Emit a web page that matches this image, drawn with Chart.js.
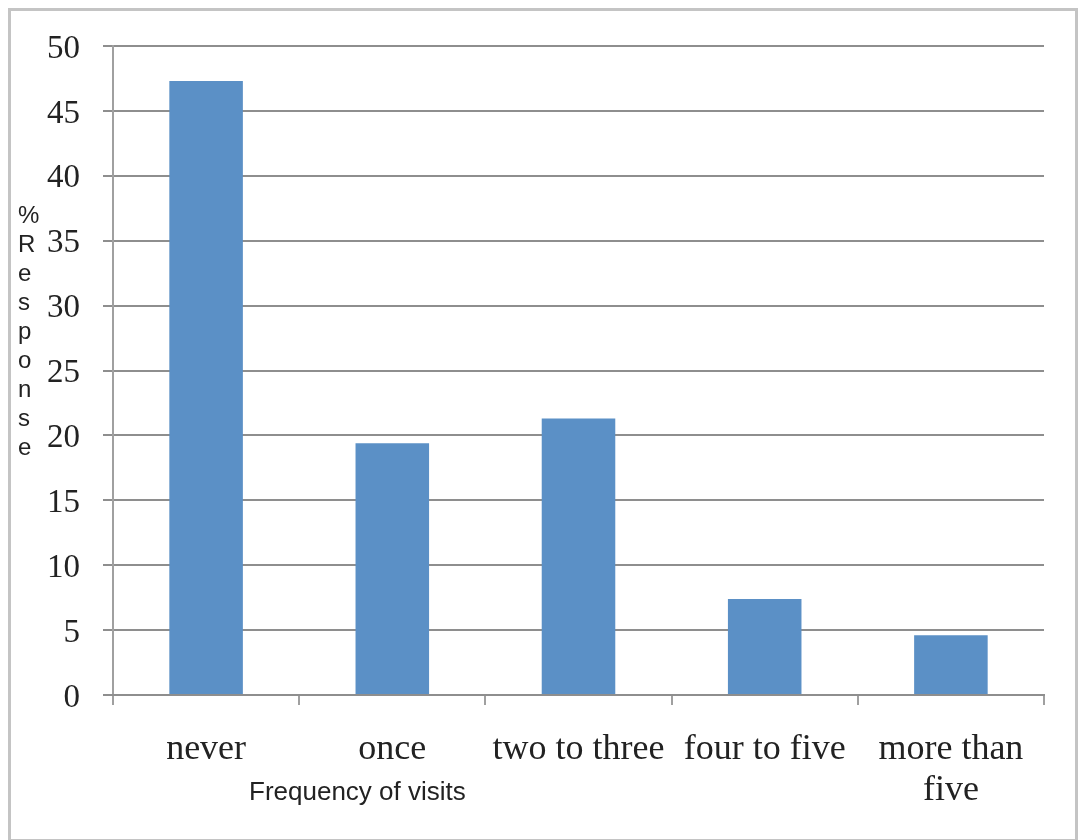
<!DOCTYPE html>
<html>
<head>
<meta charset="utf-8">
<script src="https://cdn.jsdelivr.net/npm/chart.js@4"></script>
<style>
  body { margin: 0; background: #fff; }
  #wrap { position: relative; width: 1080px; height: 840px; }
  #frame {
    position: absolute; left: 8px; top: 8px; width: 1070px; height: 834px;
    border: 3px solid #c4c4c4; box-sizing: border-box; pointer-events: none;
  }
</style>
</head>
<body>
<div id="wrap">
  <canvas id="myChart" width="1080" height="840"></canvas>
  <div id="frame"></div>
</div>
<script>
let labels = ["never", "once", "two to three", "four to five", ["more than", "five"]];
let values = [47.3, 19.4, 21.3, 7.4, 4.6];
let yTitle = "% Response";
let xTitle = "Frequency of visits";

// axis titles are drawn by hand: stacked letters on the left, offset text below
const titles = {
  id: "titles",
  afterDraw(chart) {
    let ctx = chart.ctx;
    ctx.save();
    ctx.fillStyle = "#222";
    ctx.font = "24px 'Liberation Sans'";
    ctx.textAlign = "left";
    ctx.textBaseline = "middle";
    let letters = yTitle.replace(" ", "").split("");
    letters.forEach((ch, i) => ctx.fillText(ch, 18, 216 + i * 29));
    ctx.font = "26px 'Liberation Sans'";
    ctx.fillText(xTitle, 249, 793);
    ctx.restore();
  },
};

let ctx = document.getElementById("myChart").getContext("2d");
let myChart = new Chart(ctx, {
  type: "bar",
  data: {
    labels: labels,
    datasets: [
      {
        data: values,
        backgroundColor: "#5b90c6",
        borderWidth: 0,
        barPercentage: 0.395,
        categoryPercentage: 1,
      },
    ],
  },
  options: {
    responsive: false,
    animation: false,
    layout: { padding: { top: 46, right: 36, left: 0, bottom: 0 } },
    plugins: { legend: { display: false }, tooltip: { enabled: false } },
    scales: {
      y: {
        min: 0,
        max: 50,
        ticks: {
          stepSize: 5,
          padding: 23,
          labelOffset: 3,
          color: "#222",
          font: { family: "'Liberation Serif'", size: 33 },
        },
        grid: { color: "#8e8e8e", lineWidth: 2, tickLength: 10 },
        border: { color: "#a0a0a0", width: 2 },
        afterFit(scale) { scale.width = 113; },
      },
      x: {
        ticks: {
          padding: 24,
          color: "#222",
          maxRotation: 0,
          autoSkip: false,
          font: { family: "'Liberation Serif'", size: 36, lineHeight: 1.14 },
        },
        grid: {
          offset: true,
          drawOnChartArea: false,
          color: "#a0a0a0",
          lineWidth: 2,
          tickLength: 10,
        },
        border: { color: "#8e8e8e", width: 2 },
        afterFit(scale) { scale.height = 145; },
      },
    },
  },
  plugins: [titles],
});
</script>
</body>
</html>
